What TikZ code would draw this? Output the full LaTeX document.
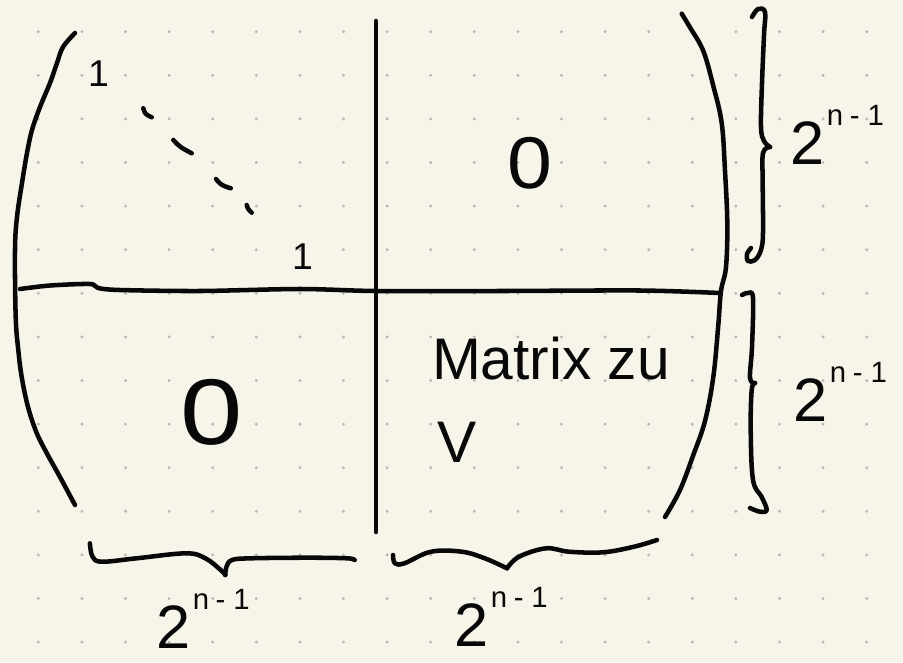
\documentclass[tikz,border=0pt]{standalone}
\usepackage{fontspec}
\setmainfont{Liberation Sans}
\definecolor{paper}{RGB}{247,245,234}
\definecolor{dotgray}{RGB}{184,182,174}
\definecolor{inkc}{RGB}{8,8,8}
\newcommand{\twopowlabel}{2\kern2pt\raisebox{29pt}{\fontsize{22}{22}\selectfont n\kern5pt-\kern6pt1}}
\begin{document}
\begin{tikzpicture}[x=0.75pt,y=-0.75pt,
  ink/.style={draw=inkc,line width=3.4pt,line cap=round,line join=round},
  lbl/.style={inner sep=0pt,outer sep=0pt,text=inkc},
  powlbl/.style={lbl,anchor=base west,font=\fontsize{46}{46}\selectfont},
  onelbl/.style={lbl,anchor=base west,font=\fontsize{28}{28}\selectfont},
  handtext/.style={lbl,anchor=base west,font=\fontsize{44}{44}\selectfont}]
% paper
\fill[paper] (0,0) rectangle (903,662);
\useasboundingbox (0,0) rectangle (903,662);
\foreach \i in {0,...,19}
  \foreach \j in {0,...,14}
    \fill[dotgray] ({38.3+43.6*\i},{31.7+43.6*\j}) circle (1.2pt);
% large parentheses
\draw[ink] plot[smooth,tension=0.6] coordinates {(75,33) (63,47) (57,63) (50,83) (40,107) (32,130) (27,153) (22,183) (17,217) (15,250) (15.7,317) (18.3,350) (21.7,377) (28,407) (36.7,433) (46.7,453) (60,477) (75,505)};
\draw[ink] plot[smooth,tension=0.6] coordinates {(681.7,13.7) (690,27.4) (703.3,51) (713.3,86) (721.7,123) (725,171) (727.3,223) (726,267) (721,291) (718.3,325) (713.3,377) (705,421) (693.3,455) (680,490) (665,517)};
% block separators
\draw[ink] (376,21) -- (376,532);
\draw[ink] plot[smooth,tension=0.5] coordinates {(20,289) (50,285.5) (90,284) (98,288) (120,290) (200,291) (300,289) (376,291) (500,291) (640,290.5) (720,293)};
% diagonal dots
\draw[ink] (143.3,108.3) .. controls (145,114) .. (151.7,117.3);
\draw[ink] (173.3,140) .. controls (180,147) .. (191.7,153.3);
\draw[ink] (216,179) .. controls (221,185) .. (230.7,188.3);
\draw[ink] (246.7,205) .. controls (248,209) .. (251.7,212.7);
% right braces
\draw[ink] plot[smooth,tension=0.6] coordinates {(752,17) (758,9) (765,12) (764,35) (762,83) (761,127) (764,141) (770,147)};
\draw[ink] plot[smooth,tension=0.6] coordinates {(770,147) (763,153) (762.7,183) (763,233) (761,250) (755,260) (748,261) (747,254) (751,248)};
\draw[ink] plot[smooth,tension=0.6] coordinates {(742,295) (748,293) (753,298) (752,347) (750,378) (755,383)};
\draw[ink] plot[smooth,tension=0.6] coordinates {(755,383) (751.7,390) (750.7,430) (753,480) (761.7,497) (766.7,510) (760,511.7) (750,508)};
% bottom braces
\draw[ink] plot[smooth,tension=0.6] coordinates {(89.9,543.3) (92.5,556.7) (102,561.7) (136.5,558.3) (186,553.3) (205.4,558.3) (220.7,570) (225.3,575)};
\draw[ink] plot[smooth,tension=0.6] coordinates {(225.3,575) (226.5,566.7) (232,560) (251,558.3) (308.8,557.7) (347,558.3) (354.7,560)};
\draw[ink] plot[smooth,tension=0.6] coordinates {(393,555) (394.9,563.3) (404.4,563.3) (431,551.7) (461.8,551.7) (484.8,558.3) (507,568.3)};
\draw[ink] plot[smooth,tension=0.6] coordinates {(507,568.3) (519,556.7) (546,548.3) (569,551.7) (603,552.3) (634,546.7) (657,540)};
% entries
\node[onelbl] (oneTop) at (88,86) {1};
\node[onelbl] (oneBot) at (292,269) {1};
\node[lbl,font=\fontsize{55}{55}\selectfont] (zeroTR) at (530,163) {\scalebox{1.1}[1]{0}};
\node[lbl,font=\fontsize{70}{70}\selectfont] (zeroBL) at (212,412) {\scalebox{1.2}[1]{0}};
\node[handtext] (matrixText) at (432,379) {Matrix zu};
\node[handtext] (vText) at (437,462) {V};
% size labels
\node[powlbl] (sizeR1) at (790,164) {\twopowlabel};
\node[powlbl] (sizeR2) at (793,421) {\twopowlabel};
\node[powlbl] (sizeB1) at (156,648) {\twopowlabel};
\node[powlbl] (sizeB2) at (454,646) {\twopowlabel};
\end{tikzpicture}
\end{document}
